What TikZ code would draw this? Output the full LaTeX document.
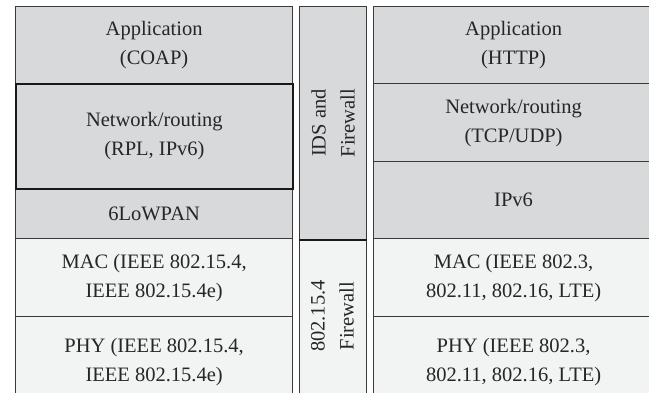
\documentclass[tikz,border=0pt]{standalone}
\usepackage{fontspec}
\setmainfont{Liberation Serif}
\definecolor{layergray}{HTML}{D8D9DB}
\definecolor{layerlight}{HTML}{F2F3F3}
\definecolor{edge}{HTML}{3A3A3A}
\tikzset{
  layer/.style={draw=edge, line width=1.2pt, anchor=north west, inner sep=0pt,
    align=center, text=black!85,
    font=\fontsize{20.5}{29}\selectfont},
  upper/.style={layer, fill=layergray},
  lower/.style={layer, fill=layerlight},
  boldedge/.style={line width=1.8pt, draw=black!90},
  sidetext/.style={rotate=90, align=center, text=black!85,
    font=\fontsize{20.5}{29}\selectfont},
}
\begin{document}
\begin{tikzpicture}[x=1pt, y=-1pt]
\useasboundingbox (0,0) rectangle (649,392);
\clip (0,0) rectangle (649,392);
\fill[white] (0,0) rectangle (649,392);

% constrained (6LoWPAN) stack
\node[upper, minimum width=277pt, minimum height=77pt] (lapp) at (15,6) {Application\\(COAP)};
\node[upper, minimum width=277pt, minimum height=50pt] (l6lo) at (15,188) {6LoWPAN};
\node[upper, boldedge, minimum width=277pt, minimum height=105pt] (lnet) at (15,83) {Network/routing\\(RPL, IPv6)};
\node[lower, minimum width=277pt, minimum height=78pt] (lmac) at (15,238) {MAC (IEEE 802.15.4,\\IEEE 802.15.4e)};
\node[lower, minimum width=277pt, minimum height=90pt] (lphy) at (15,316) {PHY (IEEE 802.15.4,\\IEEE 802.15.4e)};

% gateway column
\node[upper, minimum width=67pt, minimum height=233pt] (gtop) at (299,6) {};
\node[lower, minimum width=67pt, minimum height=170pt] (gbot) at (299,239) {};
\draw[boldedge] (gtop.south west) -- (gtop.south east);
\node[sidetext] (gtxt1) at (gtop.center) {IDS and\\Firewall};
\node[sidetext] (gtxt2) at (332.5,316) {802.15.4\\Firewall};

% internet stack
\node[upper, minimum width=280pt, minimum height=77pt] (rapp) at (373,6) {Application\\(HTTP)};
\node[upper, minimum width=280pt, minimum height=78pt] (rnet) at (373,83) {Network/routing\\(TCP/UDP)};
\node[upper, minimum width=280pt, minimum height=77pt] (ripv6) at (373,161) {IPv6};
\node[lower, minimum width=280pt, minimum height=78pt] (rmac) at (373,238) {MAC (IEEE 802.3,\\802.11, 802.16, LTE)};
\node[lower, minimum width=280pt, minimum height=90pt] (rphy) at (373,316) {PHY (IEEE 802.3,\\802.11, 802.16, LTE)};
\end{tikzpicture}
\end{document}
